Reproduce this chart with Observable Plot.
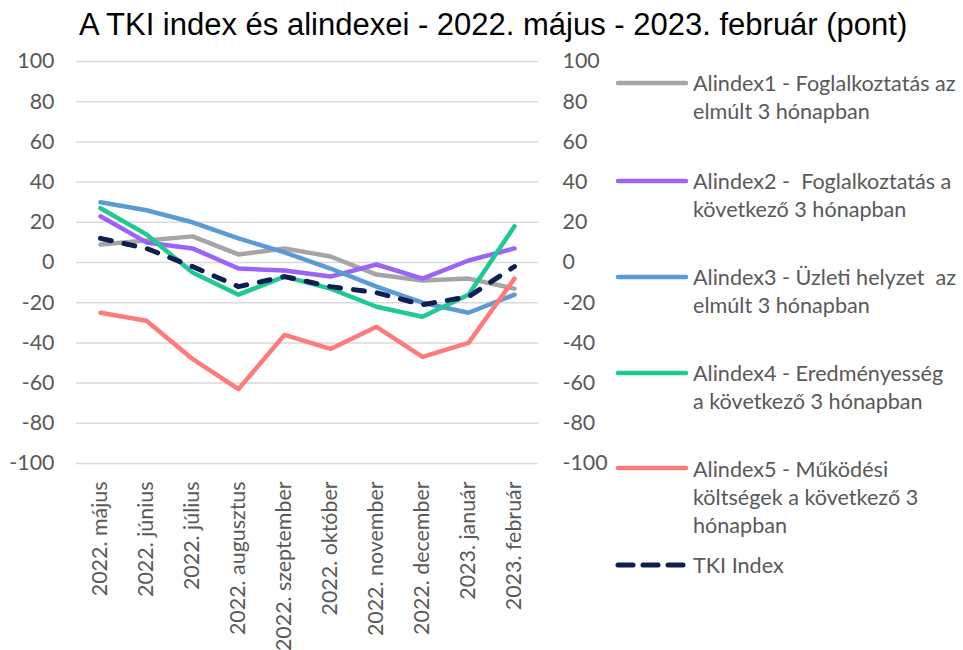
<!DOCTYPE html>
<html>
<head>
<meta charset="utf-8">
<script src="https://cdn.jsdelivr.net/npm/d3@7"></script>
<script src="https://cdn.jsdelivr.net/npm/@observablehq/plot@0.6"></script>
<style>
  html, body { margin: 0; padding: 0; background: #fff; }
  #wrap { position: relative; width: 963px; height: 650px; overflow: hidden; }
  #title { height: 46px; box-sizing: border-box; padding-top: 10px; padding-left: 79px;
           font-family: "Liberation Sans", Arial, sans-serif; font-size: 31px; line-height: 30px;
           color: #000; white-space: nowrap; }
  .lg-sw { position: absolute; left: 614px; width: 76px; height: 10px; }
  .lg-tx { position: absolute; left: 693px; font-family: Lato, sans-serif; font-size: 21.6px;
           line-height: 28.3px; color: #595959; white-space: nowrap; }
</style>
</head>
<body>
<div id="wrap">
  <div id="title">A TKI index és alindexei - 2022. május - 2023. február (pont)</div>
  <div id="chart"></div>
</div>
<script>
// ---- data ----
const months = ["2022. május","2022. június","2022. július","2022. augusztus","2022. szeptember",
                "2022. október","2022. november","2022. december","2023. január","2023. február"];
const alindex1 = [9, 11, 13, 4, 7, 3, -6, -9, -8, -13];
const alindex2 = [23, 10, 7, -3, -4, -7, -1, -8, 1, 7];
const alindex3 = [30, 26, 20, 12, 5, -3, -12, -20, -25, -16];
const alindex4 = [27, 14, -5, -16, -7, -13, -22, -27, -16, 18];
const alindex5 = [-25, -29, -48, -63, -36, -43, -32, -47, -40, -8];
const tkiIndex = [12, 7, -2, -12, -7, -12, -15, -21, -17, -2];
const yTicks = [-100, -80, -60, -40, -20, 0, 20, 40, 60, 80, 100];
const seriesNames = [
  "Alindex1 - Foglalkoztatás az\nelmúlt 3 hónapban",
  "Alindex2 -\u00a0\u00a0Foglalkoztatás a\nkövetkező 3 hónapban",
  "Alindex3 - Üzleti helyzet\u00a0\u00a0az\nelmúlt 3 hónapban",
  "Alindex4 - Eredményesség\na következő 3 hónapban",
  "Alindex5 - Működési\nköltségek a következő 3\nhónapban",
  "TKI Index"
];
const seriesColors = ["#A5A5A5", "#9B63F8", "#5B9BD5", "#1FC993", "#FF7B7B", "#0E1D52"];

// ---- build ----
const seriesValues = [alindex1, alindex2, alindex3, alindex4, alindex5, tkiIndex];
const series = seriesValues.map((vals, i) => ({
  name: seriesNames[i], color: seriesColors[i], dashed: i === 5,
  data: vals.map((v, j) => ({month: months[j], value: v}))
}));

const lineMarks = series.map(s => Plot.line(s.data, {
  x: "month", y: "value", stroke: s.color,
  strokeWidth: s.dashed ? 5 : 4.5,
  strokeLinejoin: "round", strokeLinecap: "round",
  strokeDasharray: s.dashed ? "11,13" : null
}));

const chart = Plot.plot({
  width: 963, height: 604,
  marginTop: 15, marginBottom: 187, marginLeft: 76, marginRight: 425,
  style: {fontFamily: "Lato, sans-serif", fontSize: "21.4px", color: "#595959", background: "#fff"},
  x: {type: "point", domain: months, padding: 0.5},
  y: {domain: [-100, 100]},
  marks: [
    Plot.ruleY(yTicks, {stroke: "#d9d9d9", strokeWidth: 1.5}),
    Plot.axisY({anchor: "left", ticks: yTicks, tickSize: 0, tickPadding: 22, label: null, tickFormat: d => String(d)}),
    Plot.axisY({anchor: "right", ticks: yTicks, tickSize: 0, tickPadding: 24, label: null, tickFormat: d => String(d)}),
    Plot.axisX({tickRotate: -90, tickSize: 0, tickPadding: 18, label: null}),
    ...lineMarks
  ]
});
document.getElementById("chart").appendChild(chart);

// ---- legend ----
const legendY = [82.7, 180.7, 276.7, 372.7, 468.3, 565];
const wrap = document.getElementById("wrap");
series.forEach((s, i) => {
  const y = legendY[i];
  const ns = "http://www.w3.org/2000/svg";
  const sw = document.createElementNS(ns, "svg");
  sw.setAttribute("class", "lg-sw");
  sw.setAttribute("width", 76); sw.setAttribute("height", 10);
  sw.style.top = (y - 5) + "px";
  const ln = document.createElementNS(ns, "line");
  ln.setAttribute("x1", 4); ln.setAttribute("x2", 72);
  ln.setAttribute("y1", 5); ln.setAttribute("y2", 5);
  ln.setAttribute("stroke", s.color);
  ln.setAttribute("stroke-width", s.dashed ? 5 : 4.5);
  ln.setAttribute("stroke-linecap", "round");
  if (s.dashed) ln.setAttribute("stroke-dasharray", "15,10");
  sw.appendChild(ln);
  wrap.appendChild(sw);
  const tx = document.createElement("div");
  tx.className = "lg-tx";
  tx.style.top = (y - 13.6) + "px";
  s.name.split("\n").forEach((t, k) => {
    if (k) tx.appendChild(document.createElement("br"));
    tx.appendChild(document.createTextNode(t));
  });
  wrap.appendChild(tx);
});
</script>
</body>
</html>
